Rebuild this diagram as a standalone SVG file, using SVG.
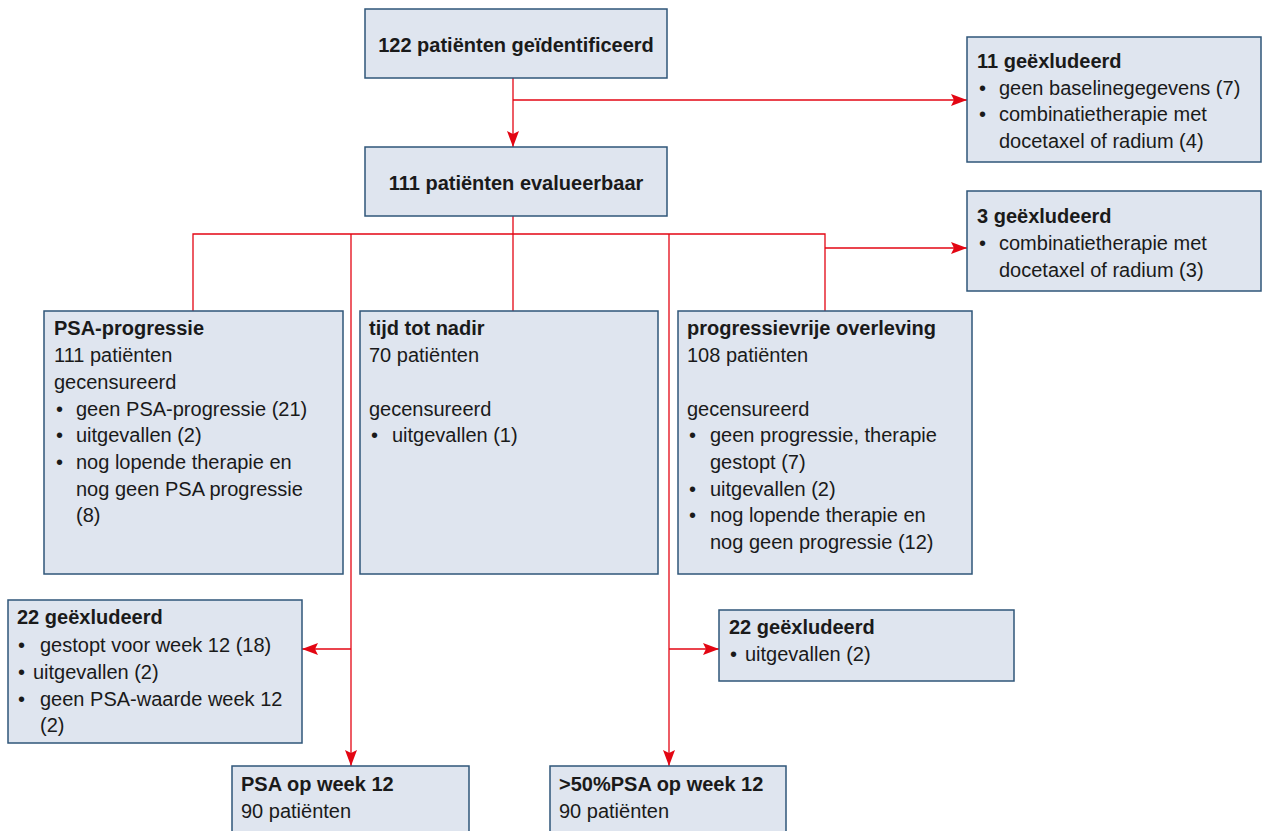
<svg xmlns="http://www.w3.org/2000/svg" width="1267" height="831" viewBox="0 0 1267 831">
<style>
.box{fill:#dfe5ef;stroke:#2f5679;stroke-width:1.5}
text{font-family:"Liberation Sans",Arial,sans-serif;font-size:20px;fill:#1a1a1a}
.b{font-weight:bold}
.ln{fill:none;stroke:#e30613;stroke-width:1.3}
</style>
<defs>
<marker id="ah" viewBox="0 0 16 12" refX="16" refY="6" markerWidth="16" markerHeight="12" markerUnits="userSpaceOnUse" orient="auto">
<path d="M0,0 L16,6 L0,12 L3,6 Z" fill="#e30613"/>
</marker>
</defs>
<rect width="1267" height="831" fill="#fff"/>
<g id="connectors">
<path class="ln" d="M513,78 V147" marker-end="url(#ah)"/>
<path class="ln" d="M513,100 H967" marker-end="url(#ah)"/>
<path class="ln" d="M513,216 V311"/>
<path class="ln" d="M193,311 V234 H825 V311"/>
<path class="ln" d="M825,248 H967" marker-end="url(#ah)"/>
<path class="ln" d="M351,234 V766" marker-end="url(#ah)"/>
<path class="ln" d="M351,649 H302" marker-end="url(#ah)"/>
<path class="ln" d="M669,234 V766" marker-end="url(#ah)"/>
<path class="ln" d="M669,649 H719" marker-end="url(#ah)"/>
</g>
<g id="n1">
<rect class="box" x="365" y="9" width="302" height="69"/>
<text class="b" x="516" y="52" text-anchor="middle">122 patiënten geïdentificeerd</text>
</g>
<g id="n2">
<rect class="box" x="365" y="147" width="302" height="69"/>
<text class="b" x="516" y="190" text-anchor="middle">111 patiënten evalueerbaar</text>
</g>
<g id="excl11">
<rect class="box" x="967" y="37" width="294" height="125"/>
<text class="b" x="977" y="68">11 geëxludeerd</text>
<text x="979" y="95">•</text><text x="999" y="95">geen baselinegegevens (7)</text>
<text x="979" y="121">•</text><text x="999" y="121">combinatietherapie met</text>
<text x="999" y="148">docetaxel of radium (4)</text>
</g>
<g id="excl3">
<rect class="box" x="967" y="191" width="294" height="100"/>
<text class="b" x="977" y="223">3 geëxludeerd</text>
<text x="979" y="250">•</text><text x="999" y="250">combinatietherapie met</text>
<text x="999" y="277">docetaxel of radium (3)</text>
</g>
<g id="psaprog">
<rect class="box" x="44" y="311" width="299" height="263"/>
<text class="b" x="54" y="335">PSA-progressie</text>
<text x="54" y="362">111 patiënten</text>
<text x="54" y="389">gecensureerd</text>
<text x="56" y="416">•</text><text x="76" y="416">geen PSA-progressie (21)</text>
<text x="56" y="442">•</text><text x="76" y="442">uitgevallen (2)</text>
<text x="56" y="469">•</text><text x="76" y="469">nog lopende therapie en</text>
<text x="76" y="496">nog geen PSA progressie</text>
<text x="76" y="522">(8)</text>
</g>
<g id="nadir">
<rect class="box" x="360" y="311" width="298" height="263"/>
<text class="b" x="369" y="335">tijd tot nadir</text>
<text x="369" y="362">70 patiënten</text>
<text x="369" y="416">gecensureerd</text>
<text x="371" y="442">•</text><text x="392" y="442">uitgevallen (1)</text>
</g>
<g id="pfs">
<rect class="box" x="678" y="311" width="294" height="263"/>
<text class="b" x="687" y="335">progressievrije overleving</text>
<text x="687" y="362">108 patiënten</text>
<text x="687" y="416">gecensureerd</text>
<text x="689" y="442">•</text><text x="710" y="442">geen progressie, therapie</text>
<text x="710" y="469">gestopt (7)</text>
<text x="689" y="496">•</text><text x="710" y="496">uitgevallen (2)</text>
<text x="689" y="522">•</text><text x="710" y="522">nog lopende therapie en</text>
<text x="710" y="549">nog geen progressie (12)</text>
</g>
<g id="excl22a">
<rect class="box" x="8" y="600" width="294" height="143"/>
<text class="b" x="17" y="624">22 geëxludeerd</text>
<text x="18" y="652">•</text><text x="40" y="652">gestopt voor week 12 (18)</text>
<text x="18" y="679">•</text><text x="33" y="679">uitgevallen (2)</text>
<text x="18" y="706">•</text><text x="40" y="706">geen PSA-waarde week 12</text>
<text x="40" y="732">(2)</text>
</g>
<g id="psa12">
<rect class="box" x="232" y="766" width="237" height="80"/>
<text class="b" x="241" y="791">PSA op week 12</text>
<text x="241" y="818">90 patiënten</text>
</g>
<g id="excl22b">
<rect class="box" x="719" y="610" width="295" height="71"/>
<text class="b" x="729" y="634">22 geëxludeerd</text>
<text x="730" y="661">•</text><text x="745" y="661">uitgevallen (2)</text>
</g>
<g id="psa50">
<rect class="box" x="550" y="766" width="236" height="80"/>
<text class="b" x="559" y="791">&gt;50%PSA op week 12</text>
<text x="559" y="818">90 patiënten</text>
</g>
</svg>
